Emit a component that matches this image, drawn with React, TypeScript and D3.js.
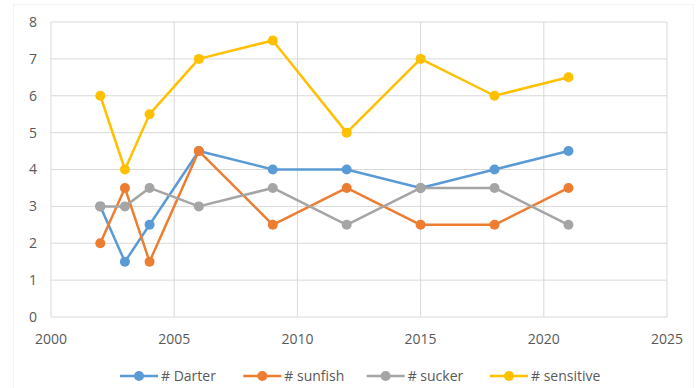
import * as d3 from 'd3'

const years = [2002, 2003, 2004, 2006, 2009, 2012, 2015, 2018, 2021]
const darter = [3, 1.5, 2.5, 4.5, 4, 4, 3.5, 4, 4.5]
const sunfish = [2, 3.5, 1.5, 4.5, 2.5, 3.5, 2.5, 2.5, 3.5]
const sucker = [3, 3, 3.5, 3, 3.5, 2.5, 3.5, 3.5, 2.5]
const sensitive = [6, 4, 5.5, 7, 7.5, 5, 7, 6, 6.5]

const seriesNames = ['# Darter', '# sunfish', '# sucker', '# sensitive']
const seriesColors = ['#5B9BD5', '#ED7D31', '#A5A5A5', '#FFC000']
const xTicks = [2000, 2005, 2010, 2015, 2020, 2025]
const yTicks = [0, 1, 2, 3, 4, 5, 6, 7, 8]

const W = 700
const H = 388
const MARGIN = { top: 22, right: 33, bottom: 71, left: 51 }
const FONT = "'Open Sans', 'Noto Sans', sans-serif"

export default function App() {
    const boundsWidth = W - MARGIN.left - MARGIN.right
    const boundsHeight = H - MARGIN.top - MARGIN.bottom

    const xScale = d3.scaleLinear().domain([2000, 2025]).range([0, boundsWidth])
    const yScale = d3.scaleLinear().domain([0, 8]).range([boundsHeight, 0])

    const allSeries = [darter, sunfish, sucker, sensitive]

    const line = d3.line<[number, number]>()
        .x(d => xScale(d[0]))
        .y(d => yScale(d[1]))

    // legend positions (centre of each marker)
    const legendX = d3.scalePoint<string>().domain(seriesNames).range([139, 509])

    return (
        <div style={{ position: 'absolute', left: 0, top: 0 }}>
            <svg width={W} height={H} style={{ display: 'block', fontFamily: FONT }}>
                <rect x={0} y={0} width={W} height={H} fill="#fff" />
                <rect x={13.5} y={4.5} width={W - 20} height={H - 4} fill="none" stroke="#f3f3f3" />
                <g transform={`translate(${MARGIN.left},${MARGIN.top})`}>
                    {yTicks.map(t => (
                        <g key={'y' + t}>
                            <line x1={0} x2={boundsWidth} y1={yScale(t)} y2={yScale(t)} stroke="#D9D9D9" strokeWidth={1} />
                            <text x={-14} y={yScale(t)} dy="0.35em" textAnchor="end" fontSize={14} fill="#595959">{t}</text>
                        </g>
                    ))}
                    {xTicks.map(t => (
                        <g key={'x' + t}>
                            <line x1={xScale(t)} x2={xScale(t)} y1={0} y2={boundsHeight} stroke="#D9D9D9" strokeWidth={1} />
                            <text x={xScale(t)} y={boundsHeight + 22} dy="0.35em" textAnchor="middle" fontSize={14} fill="#595959">{t}</text>
                        </g>
                    ))}
                    {allSeries.map((vals, i) => {
                        const pts: [number, number][] = years.map((y, j) => [y, vals[j]])
                        return (
                            <g key={seriesNames[i]}>
                                <path d={line(pts) as string} fill="none" stroke={seriesColors[i]} strokeWidth={2.5} strokeLinejoin="round" />
                                {pts.map((p, j) => (
                                    <circle key={j} cx={xScale(p[0])} cy={yScale(p[1])} r={5} fill={seriesColors[i]} />
                                ))}
                            </g>
                        )
                    })}
                </g>
                {seriesNames.map((name, i) => {
                    const cx = legendX(name) as number
                    const cy = 376
                    return (
                        <g key={'leg' + name}>
                            <line x1={cx - 19} x2={cx + 19} y1={cy} y2={cy} stroke={seriesColors[i]} strokeWidth={2.5} />
                            <circle cx={cx} cy={cy} r={5} fill={seriesColors[i]} />
                            <text x={cx + 22} y={cy} dy="0.35em" fontSize={14} fill="#595959">{name}</text>
                        </g>
                    )
                })}
            </svg>
        </div>
    )
}
